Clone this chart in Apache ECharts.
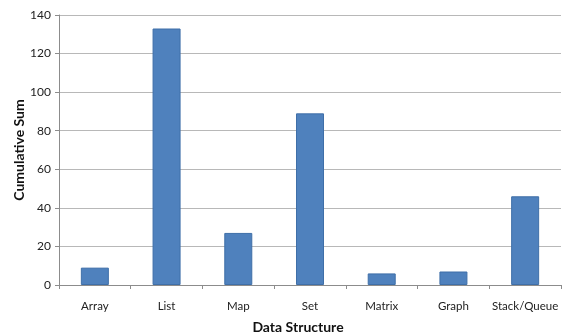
<!DOCTYPE html>
<html>
<head>
<meta charset="utf-8">
<script src="https://cdn.jsdelivr.net/npm/echarts@6/dist/echarts.min.js"></script>
<style>
html,body{margin:0;padding:0;background:#fff;}
#chart{width:563px;height:336px;}
</style>
</head>
<body>
<div id="chart"></div>
<script>
const categories = ['Array', 'List', 'Map', 'Set', 'Matrix', 'Graph', 'Stack/Queue'];
const values = [9, 133, 27, 89, 6, 7, 46];
const yTicks = { min: 0, max: 140, interval: 20 };

const chart = echarts.init(document.getElementById('chart'), null, { renderer: 'canvas' });
const font = 'Lato, "Open Sans", "Liberation Sans", sans-serif';
chart.setOption({
  animation: false,
  backgroundColor: '#ffffff',
  grid: { left: 59, right: 2, top: 15, bottom: 51, containLabel: false, outerBoundsMode: 'none' },
  xAxis: {
    type: 'category',
    data: categories,
    name: 'Data Structure',
    nameLocation: 'middle',
    nameGap: 35,
    nameTextStyle: { fontFamily: font, fontSize: 14, fontWeight: 'bold', color: '#111', padding: [0, 24, 0, 0] },
    axisLine: { lineStyle: { color: '#8c8c8c', width: 1 } },
    axisTick: { show: true, alignWithLabel: false, length: 4, lineStyle: { color: '#8c8c8c' } },
    axisLabel: { fontFamily: font, fontSize: 11.5, color: '#222', margin: 15, interval: 0 }
  },
  yAxis: {
    type: 'value',
    min: yTicks.min,
    max: yTicks.max,
    interval: yTicks.interval,
    name: 'Cumulative Sum',
    nameLocation: 'middle',
    nameGap: 33,
    nameMoveOverlap: false,
    nameTextStyle: { fontFamily: font, fontSize: 14, fontWeight: 'bold', color: '#111' },
    axisLine: { show: true, lineStyle: { color: '#8c8c8c', width: 1 } },
    axisTick: { show: true, length: 4, inside: false, lineStyle: { color: '#8c8c8c' } },
    axisLabel: { fontFamily: font, fontSize: 12, color: '#222', margin: 8 },
    splitLine: { show: true, lineStyle: { color: '#b8b8b8', width: 1 } }
  },
  series: [{
    type: 'bar',
    data: values,
    barWidth: 28,
    itemStyle: { color: '#4F81BD', borderColor: '#3f6fa8', borderWidth: 1 }
  }]
});
</script>
</body>
</html>
